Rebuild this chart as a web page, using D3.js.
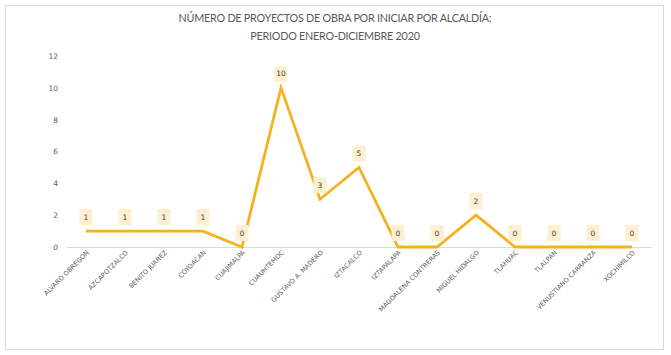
<!DOCTYPE html>
<html><head><meta charset="utf-8">
<script src="https://cdn.jsdelivr.net/npm/d3@7"></script>
<style>html,body{margin:0;padding:0;background:#fff;}svg{display:block;}</style>
</head><body>
<script>
const categories = ["ALVARO OBREGON","AZCAPOTZALCO","BENITO JUAREZ","COYOACAN","CUAJIMALPA","CUAUHTEMOC","GUSTAVO A. MADERO","IZTACALCO","IZTAPALAPA","MAGDALENA CONTRERAS","MIGUEL HIDALGO","TLAHUAC","TLALPAN","VENUSTIANO CARRANZA","XOCHIMILCO"];
const values = [1,1,1,1,0,10,3,5,0,0,2,0,0,0,0];
const yTicks = [0,2,4,6,8,10,12];
const titleLines = ["NÚMERO DE PROYECTOS DE OBRA POR INICIAR POR ALCALDÍA;","PERIODO ENERO-DICIEMBRE 2020"];

const W = 671, H = 355;
const svg = d3.select("body").append("svg").attr("width", W).attr("height", H);
svg.append("rect").attr("x",5.5).attr("y",5.5).attr("width",658).attr("height",344)
  .attr("fill","#fff").attr("stroke","#d9d9d9");

const x = d3.scalePoint().domain(categories).range([86, 632]);
const y = d3.scaleLinear().domain([0,12]).range([247, 56]);

svg.selectAll("text.title").data(titleLines).enter().append("text")
  .attr("x", 335).attr("y",(d,i)=>22+i*18).attr("text-anchor","middle")
  .attr("font-family","Lato, 'Open Sans', sans-serif").attr("font-size",10.8)
  .attr("letter-spacing",-0.25)
  .attr("fill","#595959").text(d=>d);

const yAxis = d3.axisLeft(y).tickValues(yTicks).tickSize(0).tickPadding(0);
const ga = svg.append("g").attr("transform","translate(58,0)").call(yAxis);
ga.select(".domain").remove();
ga.selectAll("text").attr("font-family","'DejaVu Sans', sans-serif").attr("font-size",7.5).attr("fill","#595959");

svg.append("line").attr("x1",67).attr("x2",652).attr("y1",y(0)+0.5).attr("y2",y(0)+0.5)
  .attr("stroke","#d9d9d9").attr("stroke-width",1);

const xAxis = d3.axisBottom(x).tickSize(0).tickPadding(0);
const gx = svg.append("g").attr("transform",`translate(0,${y(0)})`).call(xAxis);
gx.select(".domain").remove();
gx.selectAll("text")
  .attr("font-family","'DejaVu Sans', sans-serif").attr("font-size",6.5).attr("fill","#595959")
  .attr("text-anchor","end").attr("dy",null)
  .attr("transform","translate(3,6) rotate(-45)");

const line = d3.line().x((d,i)=>x(categories[i])).y(d=>y(d));
svg.append("path").datum(values).attr("d",line).attr("fill","none")
  .attr("stroke","#F5B120").attr("stroke-width",2.8).attr("stroke-linejoin","miter");

const lab = svg.selectAll("g.lab").data(values).enter().append("g")
  .attr("transform",(d,i)=>`translate(${x(categories[i])},${y(d)-14})`);
lab.append("rect").attr("x",-6.5).attr("y",-8).attr("width",13).attr("height",16).attr("fill","#FDEFCF");
lab.append("text").attr("text-anchor","middle").attr("dy","0.35em")
  .attr("font-family","'DejaVu Sans', sans-serif").attr("font-size",7.5).attr("fill","#404040")
  .text(d=>d);
</script>
</body></html>
